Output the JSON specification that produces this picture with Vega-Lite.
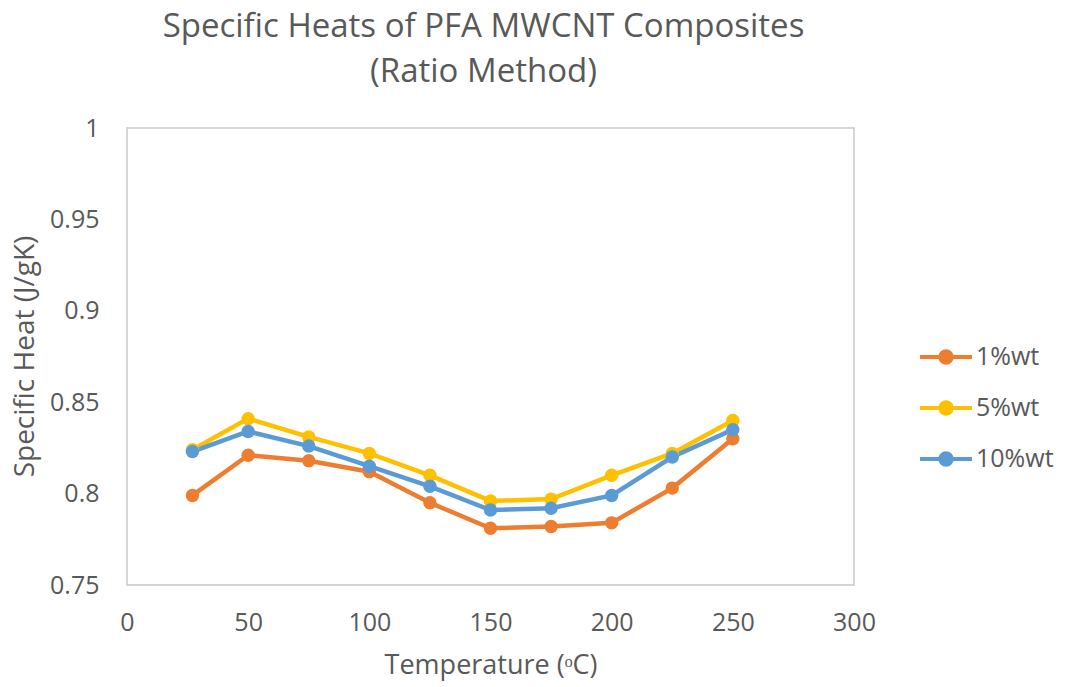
{
  "$schema": "https://vega.github.io/schema/vega-lite/v6.json",
  "autosize": "none",
  "width": 727,
  "height": 457,
  "padding": {"left": 127, "top": 128, "right": 211, "bottom": 102},
  "background": "white",
  "config": {
    "font": "Open Sans",
    "view": {"stroke": "#c9c9c9", "strokeWidth": 1.5},
    "axis": {
      "grid": false,
      "domain": false,
      "ticks": false,
      "labelFlush": false,
      "labelColor": "#595959",
      "labelFont": "Open Sans",
      "labelFontSize": 25,
      "titleColor": "#595959",
      "titleFont": "Open Sans",
      "titleFontSize": 27,
      "titleFontWeight": "normal"
    }
  },
  "title": {
    "text": ["Specific Heats of PFA MWCNT Composites", "(Ratio Method)"],
    "anchor": "middle",
    "baseline": "bottom",
    "offset": -6,
    "dx": -7,
    "lineHeight": 45,
    "font": "Open Sans",
    "fontSize": 33,
    "fontWeight": "normal",
    "color": "#595959"
  },
  "data": {
    "values": [
      {"temp": 27, "cp": 0.799, "series": "1%wt"},
      {"temp": 50, "cp": 0.821, "series": "1%wt"},
      {"temp": 75, "cp": 0.818, "series": "1%wt"},
      {"temp": 100, "cp": 0.812, "series": "1%wt"},
      {"temp": 125, "cp": 0.795, "series": "1%wt"},
      {"temp": 150, "cp": 0.781, "series": "1%wt"},
      {"temp": 175, "cp": 0.782, "series": "1%wt"},
      {"temp": 200, "cp": 0.784, "series": "1%wt"},
      {"temp": 225, "cp": 0.803, "series": "1%wt"},
      {"temp": 250, "cp": 0.830, "series": "1%wt"},
      {"temp": 27, "cp": 0.824, "series": "5%wt"},
      {"temp": 50, "cp": 0.841, "series": "5%wt"},
      {"temp": 75, "cp": 0.831, "series": "5%wt"},
      {"temp": 100, "cp": 0.822, "series": "5%wt"},
      {"temp": 125, "cp": 0.810, "series": "5%wt"},
      {"temp": 150, "cp": 0.796, "series": "5%wt"},
      {"temp": 175, "cp": 0.797, "series": "5%wt"},
      {"temp": 200, "cp": 0.810, "series": "5%wt"},
      {"temp": 225, "cp": 0.822, "series": "5%wt"},
      {"temp": 250, "cp": 0.840, "series": "5%wt"},
      {"temp": 27, "cp": 0.823, "series": "10%wt"},
      {"temp": 50, "cp": 0.834, "series": "10%wt"},
      {"temp": 75, "cp": 0.826, "series": "10%wt"},
      {"temp": 100, "cp": 0.815, "series": "10%wt"},
      {"temp": 125, "cp": 0.804, "series": "10%wt"},
      {"temp": 150, "cp": 0.791, "series": "10%wt"},
      {"temp": 175, "cp": 0.792, "series": "10%wt"},
      {"temp": 200, "cp": 0.799, "series": "10%wt"},
      {"temp": 225, "cp": 0.820, "series": "10%wt"},
      {"temp": 250, "cp": 0.835, "series": "10%wt"}
    ]
  },
  "encoding": {
    "x": {
      "field": "temp",
      "type": "quantitative",
      "scale": {"domain": [0, 300], "nice": false, "zero": false},
      "axis": {
        "values": [0, 50, 100, 150, 200, 250, 300],
        "labelPadding": 25,
        "title": "Temperature (ᵒC)",
        "titleY": 80,
        "titleBaseline": "middle"
      }
    },
    "y": {
      "field": "cp",
      "type": "quantitative",
      "scale": {"domain": [0.75, 1], "nice": false, "zero": false},
      "axis": {
        "values": [0.75, 0.8, 0.85, 0.9, 0.95, 1],
        "format": "~f",
        "labelPadding": 28,
        "title": "Specific Heat (J/gK)",
        "titleFontSize": 28,
        "titleX": -102,
        "titleY": 228,
        "titleAngle": -90,
        "titleBaseline": "middle"
      }
    },
    "color": {
      "field": "series",
      "type": "nominal",
      "scale": {"domain": ["1%wt", "5%wt", "10%wt"], "range": ["#ED7D31", "#FFC000", "#5B9BD5"]},
      "legend": {
        "title": null,
        "orient": "none",
        "legendX": 791,
        "legendY": 201,
        "symbolType": "M-1,0H1M0.22,0A0.22,0.22 0 1,1 -0.22,0A0.22,0.22 0 1,1 0.22,0",
        "symbolSize": 2704,
        "symbolStrokeWidth": 4,
        "rowPadding": 9,
        "labelOffset": 2,
        "labelFont": "Open Sans",
        "labelFontSize": 25,
        "labelColor": "#595959",
        "encode": {
          "symbols": {
            "update": {
              "fill": {"scale": "color", "field": "value"},
              "stroke": {"scale": "color", "field": "value"},
              "opacity": {"value": 1}
            }
          }
        }
      }
    }
  },
  "layer": [
    {"mark": {"type": "line", "strokeWidth": 4.5}},
    {"mark": {"type": "point", "filled": true, "opacity": 1, "size": 180, "shape": "circle"}}
  ]
}
